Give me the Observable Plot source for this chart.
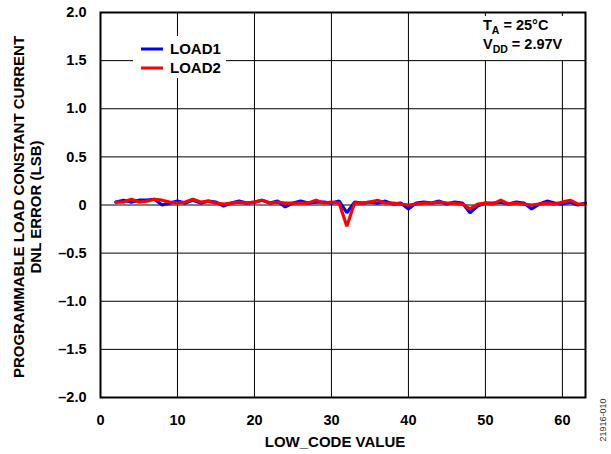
<!DOCTYPE html>
<html>
<head>
<meta charset="utf-8">
<script src="https://cdn.jsdelivr.net/npm/d3@7"></script>
<script src="https://cdn.jsdelivr.net/npm/@observablehq/plot@0.6"></script>
<style>
  html, body { margin: 0; padding: 0; background: #fff; }
  #chart svg { display: block; }
</style>
</head>
<body>
<div id="chart"></div>
<script>
// LOW_CODE values
const codes = [2,3,4,5,6,7,8,9,10,11,12,13,14,15,16,17,18,19,20,21,22,23,24,25,26,27,28,29,30,31,32,33,34,35,36,37,38,39,40,41,42,43,44,45,46,47,48,49,50,51,52,53,54,55,56,57,58,59,60,61,62,63];
// DNL error (LSB)
const load1 = [0.03,0.05,0.03,0.05,0.05,0.06,0.00,0.02,0.04,0.02,0.05,0.02,0.04,0.03,-0.01,0.02,0.04,0.02,0.03,0.05,0.02,0.04,-0.02,0.02,0.04,0.02,0.03,0.03,0.02,0.04,-0.08,0.03,0.02,0.03,0.02,0.04,0.01,0.02,-0.04,0.02,0.03,0.02,0.04,0.01,0.03,0.02,-0.08,-0.01,0.02,0.02,0.03,0.01,0.03,0.02,-0.04,0.01,0.04,0.02,0.01,0.03,0.00,0.02];
const load2 = [0.03,0.03,0.06,0.03,0.04,0.06,0.05,0.03,0.02,0.03,0.06,0.03,0.04,0.02,0.01,0.02,0.03,0.02,0.03,0.05,0.02,0.03,0.02,0.02,0.02,0.02,0.05,0.02,0.03,0.02,-0.22,0.02,0.02,0.03,0.05,0.02,0.02,0.01,0.00,0.01,0.02,0.02,0.03,0.02,0.02,0.01,-0.04,0.01,0.02,0.01,0.05,0.01,0.02,0.01,0.00,0.01,0.02,0.01,0.03,0.05,0.01,0.01];
const seriesNames = ["LOAD1", "LOAD2"];
const seriesColors = ["#0000ff", "#ff0000"];
const xTicks = [0,10,20,30,40,50,60];
const yTicks = [-2,-1.5,-1,-0.5,0,0.5,1,1.5,2];

const rows = [];
codes.forEach((c, i) => rows.push({code: c, dnl: load1[i], series: seriesNames[0]}));
codes.forEach((c, i) => rows.push({code: c, dnl: load2[i], series: seriesNames[1]}));

const fmtY = d => d === 0 ? "0" : (d < 0 ? "\u2013" : "") + Math.abs(d).toFixed(1);
const FONT = "'Liberation Sans', Arial, sans-serif";

const chart = Plot.plot({
  width: 611,
  height: 454,
  marginLeft: 100,
  marginRight: 26,
  marginTop: 12,
  marginBottom: 57,
  style: {fontFamily: FONT, fontSize: "14.5px", fontWeight: "bold", background: "#fff", color: "#000"},
  x: {domain: [0, 63]},
  y: {domain: [-2, 2]},
  color: {domain: seriesNames, range: seriesColors},
  marks: [
    Plot.gridX(xTicks.filter(t => t > 0), {stroke: "#000", strokeOpacity: 1, strokeWidth: 1}),
    Plot.gridY(yTicks.filter(t => t > -2 && t < 2), {stroke: "#000", strokeOpacity: 1, strokeWidth: 1}),
    Plot.axisX(xTicks, {tickSize: 0, tickPadding: 17, label: null, fontSize: 14.5, fontWeight: "bold"}),
    Plot.axisY(yTicks, {tickSize: 0, tickPadding: 14, tickFormat: fmtY, label: null, fontSize: 14.5, fontWeight: "bold"}),
    Plot.line(rows, {x: "code", y: "dnl", z: "series", stroke: "series", strokeWidth: 3.2, strokeLinejoin: "miter"}),
    Plot.frame({stroke: "#000", strokeWidth: 2})
  ]
});

const svg = d3.select(chart);

// x axis title
svg.append("text").attr("x", 335).attr("y", 447).attr("text-anchor", "middle")
  .attr("font-weight", "bold").attr("font-size", "15px").text("LOW_CODE VALUE");

// y axis title (two lines, rotated)
const yt = svg.append("text").attr("transform", "translate(24,207) rotate(-90)")
  .attr("text-anchor", "middle").attr("font-weight", "bold").attr("font-size", "15px");
yt.append("tspan").attr("x", 0).attr("dy", 0).text("PROGRAMMABLE LOAD CONSTANT CURRENT");
yt.append("tspan").attr("x", 0).attr("dy", "1.15em").text("DNL ERROR (LSB)");

// legend with white background
const lg = svg.append("g");
lg.append("rect").attr("x", 133).attr("y", 36).attr("width", 93).attr("height", 42).attr("fill", "#fff");
seriesNames.forEach((name, i) => {
  const y = 49 + i * 19;
  lg.append("line").attr("x1", 141).attr("x2", 163).attr("y1", y).attr("y2", y)
    .attr("stroke", seriesColors[i]).attr("stroke-width", 3);
  lg.append("text").attr("x", 170).attr("y", y).attr("dy", "0.36em").attr("text-anchor", "start")
    .attr("font-weight", "bold").attr("font-size", "15px").text(name);
});

// condition annotation
const an = svg.append("g");
an.append("rect").attr("x", 476).attr("y", 16).attr("width", 94).attr("height", 44).attr("fill", "#fff");
const t1 = an.append("text").attr("x", 483).attr("y", 30).attr("text-anchor", "start")
  .attr("font-weight", "bold").attr("font-size", "14.5px");
t1.append("tspan").text("T");
t1.append("tspan").attr("font-size", "10.5px").attr("dy", 4).text("A");
t1.append("tspan").attr("dy", -4).text(" = 25°C");
const t2 = an.append("text").attr("x", 483).attr("y", 49).attr("text-anchor", "start")
  .attr("font-weight", "bold").attr("font-size", "14.5px");
t2.append("tspan").text("V");
t2.append("tspan").attr("font-size", "10.5px").attr("dy", 4).text("DD");
t2.append("tspan").attr("dy", -4).text(" = 2.97V");

// figure id
svg.append("text").attr("transform", "translate(606,420) rotate(-90)").attr("text-anchor", "middle")
  .attr("font-size", "9px").attr("font-weight", "normal").attr("fill", "#333").text("21916-010");

document.getElementById("chart").appendChild(chart);
</script>
</body>
</html>
